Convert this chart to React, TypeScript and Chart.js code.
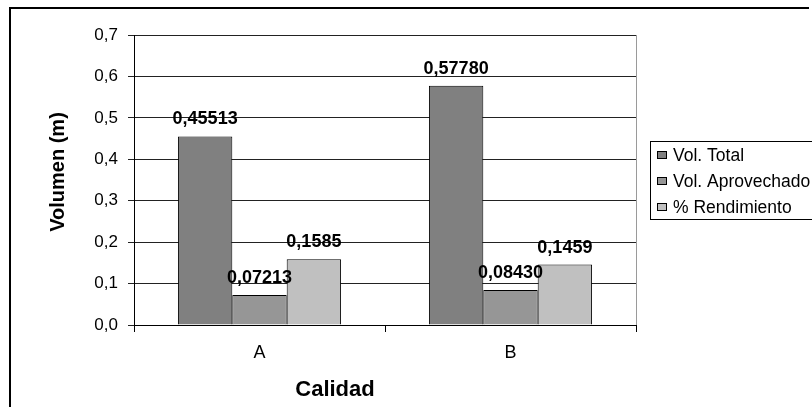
import React, { useEffect, useRef } from "react";
import { Chart, registerables } from "chart.js";

Chart.register(...registerables);

const categories = ["A", "B"];
const seriesNames = ["Vol. Total", "Vol. Aprovechado", "% Rendimiento"];
const volTotal = [0.45513, 0.5778];
const volAprovechado = [0.07213, 0.0843];
const rendimiento = [0.1585, 0.1459];
const labelDecimals = [5, 5, 4];
const seriesColors = ["#808080", "#969696", "#C0C0C0"];
const yMin = 0;
const yMax = 0.7;
const yStep = 0.1;
const yTitle = "Volumen (m)";
const xTitle = "Calidad";

const FONT = "'Liberation Sans', Arial, sans-serif";

const decor = {
  id: "decor",
  beforeDraw(chart: any) {
    const ctx = chart.ctx;
    ctx.save();
    ctx.fillStyle = "#ffffff";
    ctx.fillRect(0, 0, chart.width, chart.height);
    ctx.restore();
  },
  afterDraw(chart: any) {
    const ctx = chart.ctx;
    const { right, top, bottom } = chart.chartArea;
    ctx.save();
    // plot area right border
    ctx.strokeStyle = "#9a9a9a";
    ctx.lineWidth = 1;
    ctx.beginPath();
    ctx.moveTo(Math.round(right) + 0.5, top);
    ctx.lineTo(Math.round(right) + 0.5, bottom);
    ctx.stroke();

    // data labels
    ctx.fillStyle = "#000";
    ctx.font = `bold 18px ${FONT}`;
    ctx.textAlign = "center";
    ctx.textBaseline = "middle";
    chart.data.datasets.forEach((ds: any, i: number) => {
      const meta = chart.getDatasetMeta(i);
      meta.data.forEach((el: any, j: number) => {
        const v = ds.data[j] as number;
        const txt = v.toFixed(labelDecimals[i]).replace(".", ",");
        ctx.fillText(txt, el.x, el.y - 17);
      });
    });

    // axis titles
    ctx.font = `bold 20px ${FONT}`;
    ctx.save();
    ctx.translate(58, 172);
    ctx.rotate(-Math.PI / 2);
    ctx.fillText(yTitle, 0, 0);
    ctx.restore();
    ctx.font = `bold 22px ${FONT}`;
    ctx.fillText(xTitle, 335, 390);

    // legend
    ctx.strokeStyle = "#000";
    ctx.lineWidth = 1;
    ctx.strokeRect(650.5, 141.5, 200, 78);
    ctx.font = `17.5px ${FONT}`;
    ctx.textAlign = "left";
    seriesNames.forEach((name, i) => {
      const cy = 155 + i * 26;
      ctx.fillStyle = seriesColors[i];
      ctx.fillRect(657, cy - 4, 10, 8);
      ctx.strokeRect(657.5, cy - 3.5, 9, 7);
      ctx.fillStyle = "#000";
      ctx.fillText(name, 673, cy + 1);
    });

    // outer border
    ctx.lineWidth = 2;
    ctx.beginPath();
    ctx.moveTo(10, 420);
    ctx.lineTo(10, 8);
    ctx.lineTo(809, 8);
    ctx.stroke();
    ctx.restore();
  },
};

export default function App() {
  const ref = useRef<HTMLCanvasElement | null>(null);
  useEffect(() => {
    if (!ref.current) return;
    const series = [volTotal, volAprovechado, rendimiento];
    const chart = new Chart(ref.current, {
      type: "bar",
      data: {
        labels: categories,
        datasets: series.map((d, i) => ({
          label: seriesNames[i],
          data: d,
          backgroundColor: seriesColors[i],
          borderColor: "#000",
          borderWidth: 1,
          categoryPercentage: 0.65,
          barPercentage: 1.0,
        })),
      },
      options: {
        responsive: false,
        animation: false,
        devicePixelRatio: 1,
        layout: { padding: { left: 0, top: 35, right: 176, bottom: 0 } },
        plugins: {
          legend: { display: false },
          tooltip: { enabled: false },
          title: { display: false },
        },
        scales: {
          x: {
            afterFit: (s: any) => {
              s.height = 82;
            },
            grid: {
              display: true,
              drawOnChartArea: false,
              drawTicks: true,
              tickLength: 7,
              color: "#000",
              offset: true,
            },
            border: { display: true, color: "#000", width: 1 },
            ticks: {
              color: "#000",
              font: { family: FONT, size: 18 },
              padding: 10,
            },
          },
          y: {
            min: yMin,
            max: yMax,
            afterFit: (s: any) => {
              s.width = 134;
            },
            grid: {
              color: "#222",
              drawTicks: true,
              tickLength: 6,
            },
            border: { display: true, color: "#000", width: 1 },
            ticks: {
              stepSize: yStep,
              color: "#000",
              font: { family: FONT, size: 17 },
              padding: 10,
              callback: (v: any) => Number(v).toFixed(1).replace(".", ","),
            },
          },
        },
      },
      plugins: [decor],
    });
    return () => chart.destroy();
  }, []);
  return (
    <div style={{ position: "fixed", left: 0, top: 0, width: 812, height: 407, background: "#fff" }}>
      <canvas ref={ref} width={812} height={407} style={{ display: "block" }} />
    </div>
  );
}
